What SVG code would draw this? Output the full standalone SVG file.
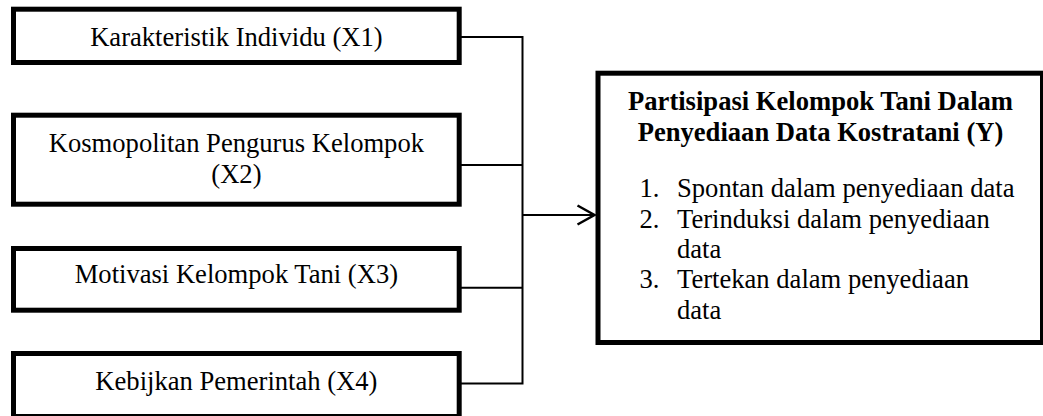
<svg xmlns="http://www.w3.org/2000/svg" width="1043" height="416" viewBox="0 0 1043 416">
<style>
.box{fill:#fff;stroke:#000;stroke-width:5}
.t{font-family:'Liberation Serif','Times New Roman',Times,'DejaVu Serif',serif;font-size:26.6px;fill:#000}
.c{text-anchor:middle}
.b{font-weight:bold}
.ln{fill:none;stroke:#000;stroke-width:2}
</style>
<defs>
<marker id="arr" markerUnits="userSpaceOnUse" markerWidth="20" markerHeight="20" refX="17" refY="9.5" orient="auto" overflow="visible">
<path d="M0,0 L17,9.5 L0,19" fill="none" stroke="#000" stroke-width="2.5"/>
</marker>
</defs>
<rect width="1043" height="416" fill="#fff"/>
<g id="connectors">
<path class="ln" d="M461,37 H522.5 V383.5 H461"/>
<path class="ln" d="M461,165 H522.5"/>
<path class="ln" d="M461,287.7 H522.5"/>
<path class="ln" d="M522.5,215 H594.5" marker-end="url(#arr)"/>
</g>
<g font-family="Liberation Serif, Times New Roman, serif">
<g id="x1">
<rect class="box" x="13.5" y="9.2" width="445.7" height="53.3"/>
<text class="t c" x="236.4" y="46">Karakteristik Individu (X1)</text>
</g>
<g id="x2">
<rect class="box" x="13.5" y="115.2" width="445.7" height="89"/>
<text class="t c" x="236.4" y="151.7">Kosmopolitan Pengurus Kelompok</text>
<text class="t c" x="236.4" y="183.2">(X2)</text>
</g>
<g id="x3">
<rect class="box" x="13.5" y="248.5" width="445.7" height="61.7"/>
<text class="t c" x="236.4" y="283.3">Motivasi Kelompok Tani (X3)</text>
</g>
<g id="x4">
<rect class="box" x="13.5" y="353.5" width="445.7" height="63"/>
<text class="t c" x="236.4" y="389.5">Kebijkan Pemerintah (X4)</text>
</g>
<g id="y">
<rect class="box" x="598" y="73.2" width="444.5" height="269.3"/>
<text class="t c b" x="820.5" y="110">Partisipasi Kelompok Tani Dalam</text>
<text class="t c b" x="820.5" y="141">Penyediaan Data Kostratani (Y)</text>
<text class="t" x="639.5" y="197.3">1.</text>
<text class="t" x="677" y="197.3">Spontan dalam penyediaan data</text>
<text class="t" x="639.5" y="227.6">2.</text>
<text class="t" x="677" y="227.6">Terinduksi dalam penyediaan</text>
<text class="t" x="677" y="257.9">data</text>
<text class="t" x="639.5" y="288.2">3.</text>
<text class="t" x="677" y="288.2">Tertekan dalam penyediaan</text>
<text class="t" x="677" y="318.5">data</text>
</g>
</g>
</svg>
